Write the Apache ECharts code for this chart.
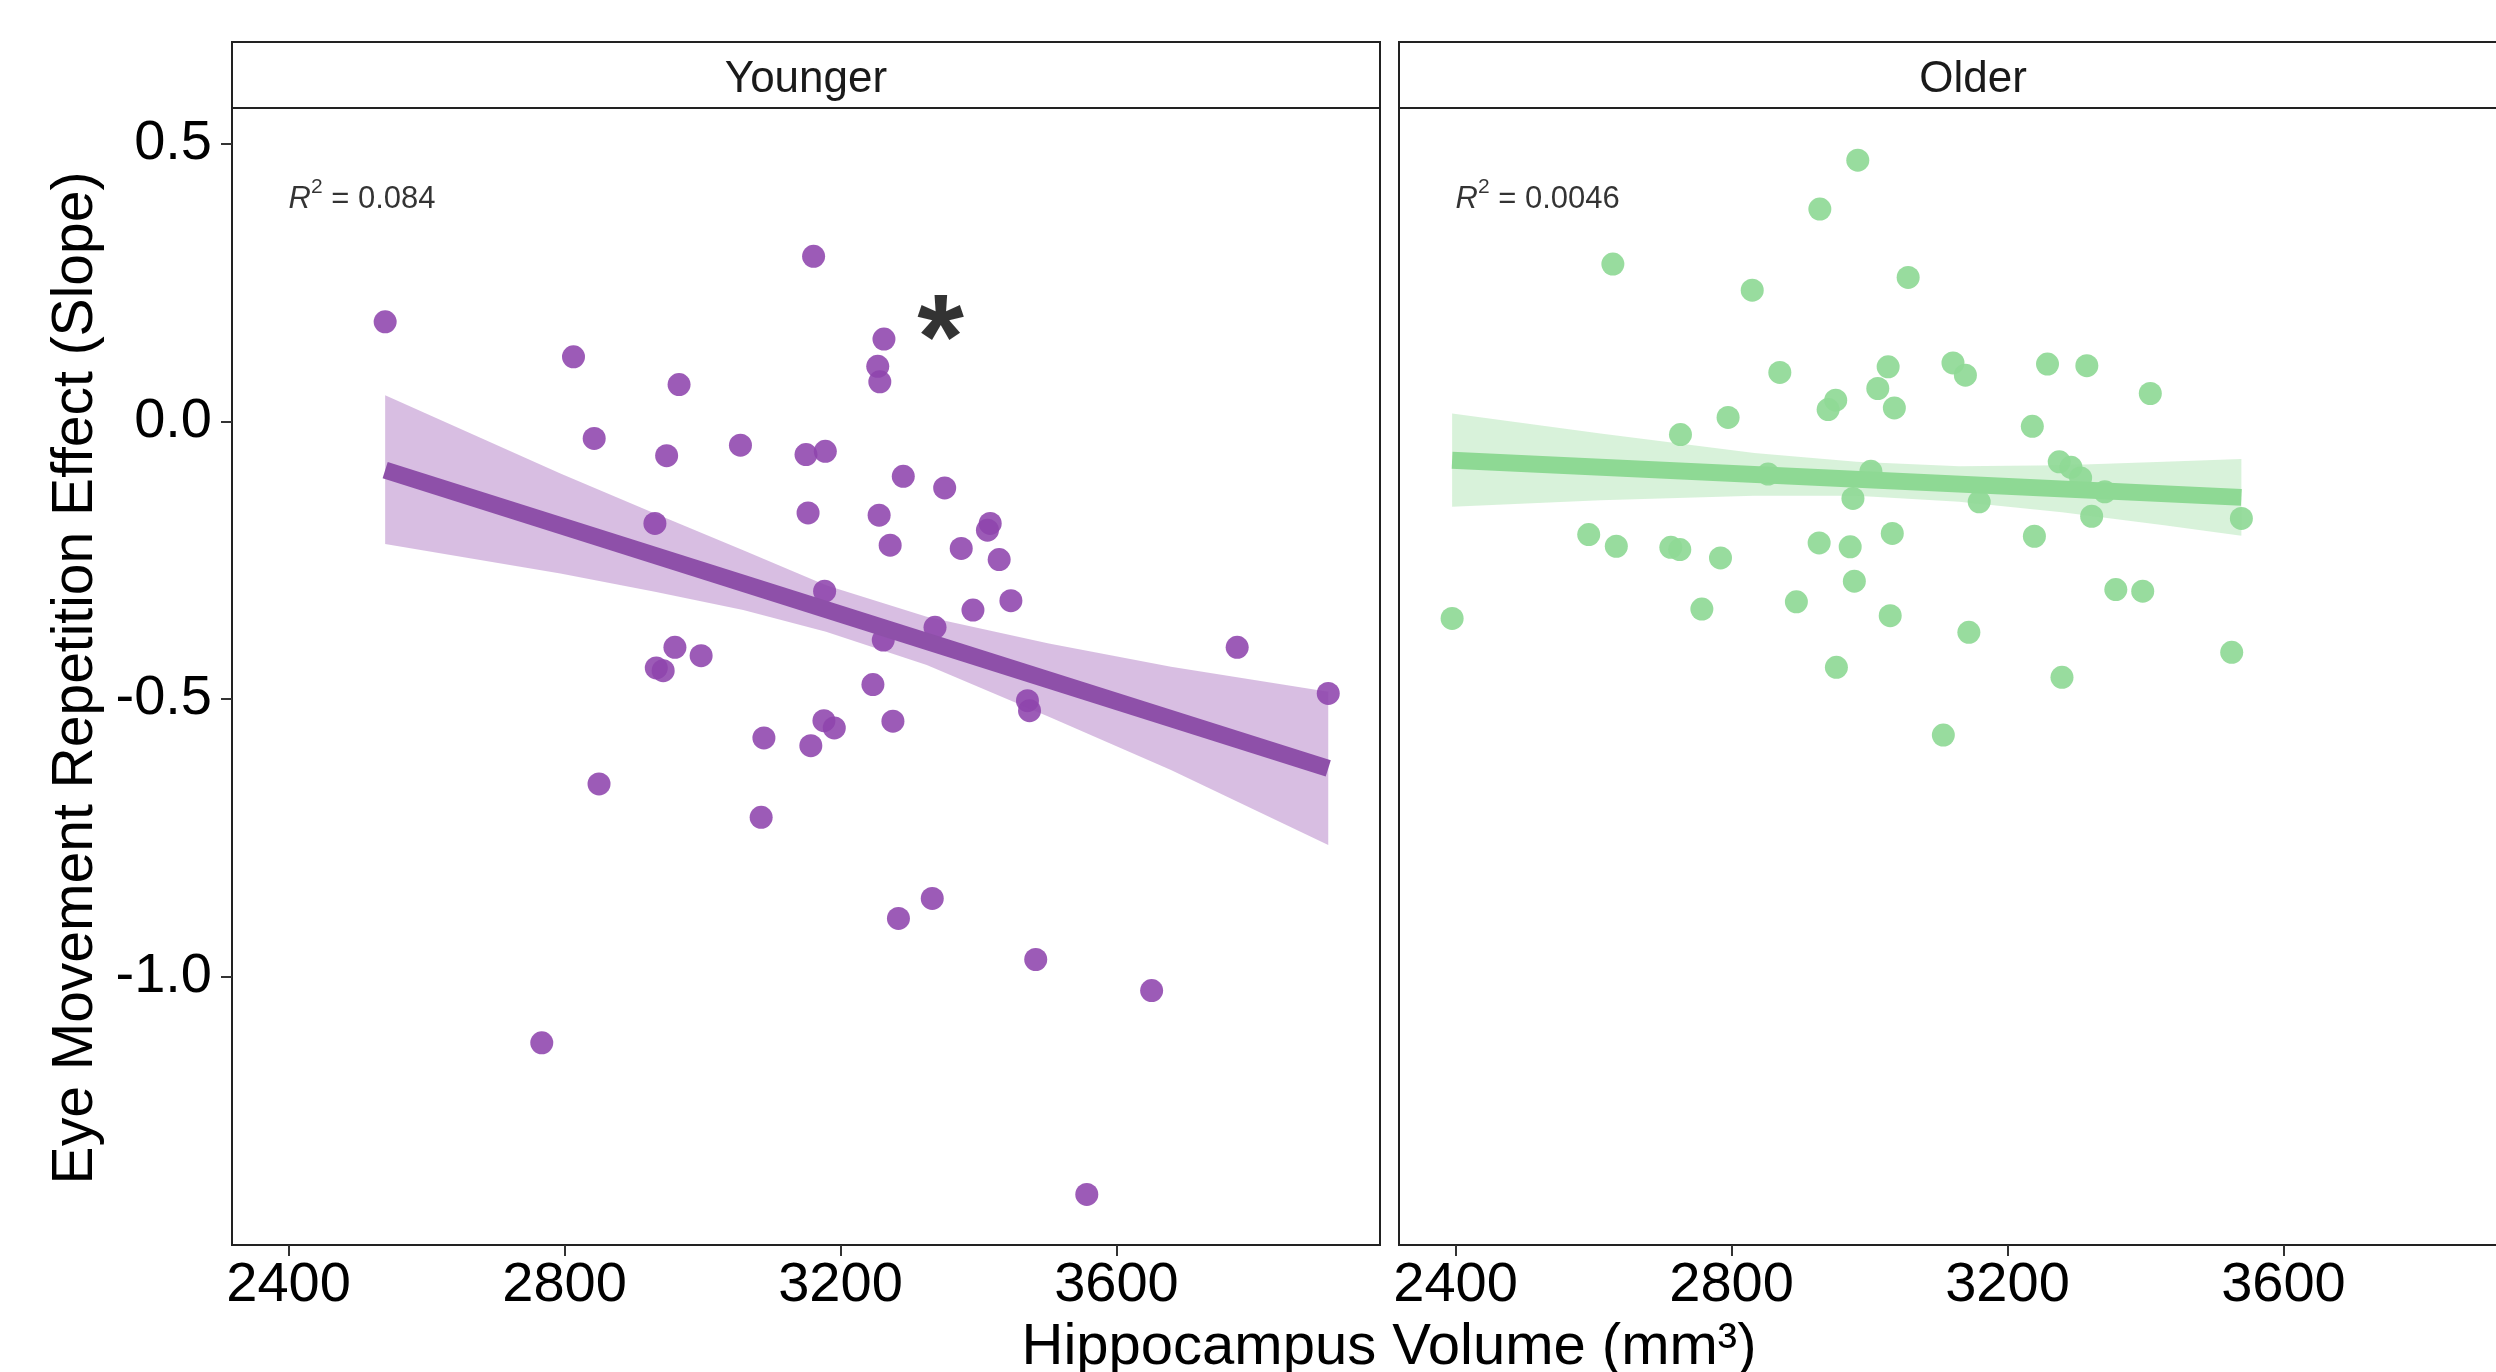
<!DOCTYPE html>
<html>
<head>
<meta charset="utf-8">
<title>Hippocampus volume vs eye movement repetition effect</title>
<script src="https://cdn.jsdelivr.net/npm/echarts@6.0.0/dist/echarts.min.js"></script>
<style>
  html, body { margin: 0; padding: 0; background: #fff; overflow: hidden; }
  /* the right facet runs past the picture edge, as in the reference */
  #chart { width: 2600px; height: 1372px; }
</style>
</head>
<body>
<div id="chart"></div>
<script>
// values
const panels = ['Younger', 'Older'];
const xTicks = [2400, 2800, 3200, 3600];
const yTicks = [-1.0, -0.5, 0.0, 0.5];

const youngX = [2540, 2813, 2966, 2843, 2948, 3055, 2931, 2960, 2998, 2933, 2943, 3089, 3161, 3263, 3254, 3257, 3150,
  3178, 3291, 3351, 3153, 3256, 3272, 3417, 3413, 3375, 3430, 3177, 3447, 3392, 3337, 3262, 3247, 3775, 3907, 3471,
  3474, 3176, 3191, 3276, 3157, 2850, 3085, 2767, 3333, 3284, 3483, 3651, 3557];
const youngY = [0.179, 0.116, 0.066, -0.031, -0.062, -0.043, -0.184, -0.407, -0.422, -0.444, -0.449, -0.570, 0.297,
  0.148, 0.099, 0.071, -0.060, -0.054, -0.099, -0.120, -0.165, -0.169, -0.223, -0.184, -0.196, -0.229, -0.249, -0.306,
  -0.323, -0.340, -0.371, -0.394, -0.474, -0.407, -0.490, -0.503, -0.521, -0.539, -0.552, -0.540, -0.584, -0.653,
  -0.713, -1.119, -0.859, -0.895, -0.969, -1.025, -1.392];

const oldX = [2983, 2928, 2628, 2830, 3056, 2870, 3027, 3012, 2951, 2940, 3036, 2795, 2726, 2853, 3002, 2976, 2593,
  2633, 2712, 2725, 2784, 2927, 2972, 3033, 2978, 2395, 2757, 2894, 3030, 2952, 3121, 3139, 3258, 3315, 3407, 3236,
  3275, 3292, 3306, 3341, 3159, 3322, 3539, 3239, 3357, 3396, 3144, 3525, 3279, 3107];
const oldY = [0.470, 0.382, 0.283, 0.236, 0.259, 0.088, 0.098, 0.059, 0.038, 0.021, 0.024, 0.007, -0.024, -0.095,
  -0.090, -0.139, -0.204, -0.225, -0.227, -0.231, -0.246, -0.219, -0.226, -0.202, -0.288, -0.355, -0.338, -0.325,
  -0.350, -0.443, 0.105, 0.083, 0.103, 0.100, 0.050, -0.009, -0.073, -0.083, -0.102, -0.127, -0.145, -0.171, -0.175,
  -0.207, -0.303, -0.306, -0.380, -0.416, -0.461, -0.565];

// fitted lines and confidence bands
const youngFitX = [2540, 3907];
const youngFitY = [-0.088, -0.625];
const youngBandX = [2540, 2794, 2931, 3059, 3179, 3325, 3502, 3679, 3907];
const youngBandHi = [0.047, -0.094, -0.166, -0.232, -0.295, -0.352, -0.400, -0.442, -0.487];
const youngBandLo = [-0.221, -0.274, -0.307, -0.340, -0.379, -0.439, -0.532, -0.628, -0.763];

const oldFitX = [2395, 3539];
const oldFitY = [-0.070, -0.137];
const oldBandX = [2395, 2610, 2833, 2981, 3130, 3279, 3427, 3539];
const oldBandHi = [0.014, -0.022, -0.057, -0.073, -0.081, -0.079, -0.073, -0.068];
const oldBandLo = [-0.154, -0.142, -0.134, -0.134, -0.145, -0.164, -0.187, -0.206];

const r2Labels = ['0.084', '0.0046'];

const FONT = 'Liberation Sans, Arial, Helvetica, sans-serif';
const purple = '#8E44AD';
const green = '#8FD996';

const zip = (xs, ys) => xs.map((x, i) => [x, ys[i]]);

function band(xs, hi, lo, idx, fill) {
  return {
    type: 'custom',
    xAxisIndex: idx,
    yAxisIndex: idx,
    z: 3,
    silent: true,
    data: xs.map((x, i) => [x, hi[i], lo[i]]),
    renderItem: (params, api) => {
      if (params.dataIndex !== 0) return;
      const pts = [];
      xs.forEach((x, i) => pts.push(api.coord([x, hi[i]])));
      for (let i = xs.length - 1; i >= 0; i--) pts.push(api.coord([xs[i], lo[i]]));
      return { type: 'polygon', shape: { points: pts }, style: { fill: fill } };
    }
  };
}

function r2Label(idx) {
  return {
    type: 'scatter',
    xAxisIndex: idx,
    yAxisIndex: idx,
    symbolSize: 0,
    silent: true,
    z: 6,
    data: [[2400, 0.4]],
    label: {
      show: true,
      position: 'right',
      distance: 0,
      formatter: '{a|R}{b|2}{c| = ' + r2Labels[idx] + '}',
      lineHeight: 44,
      rich: {
        a: { fontFamily: FONT, fontSize: 31, fontStyle: 'italic', color: '#000', lineHeight: 44 },
        b: { fontFamily: FONT, fontSize: 21, color: '#000', verticalAlign: 'top', lineHeight: 22 },
        c: { fontFamily: FONT, fontSize: 31, color: '#000', lineHeight: 44 }
      }
    }
  };
}

const grids = [232, 1399].map(left => ({
  left: left, top: 108, width: 1148, height: 1137,
  show: true, borderColor: '#222', borderWidth: 2, backgroundColor: 'transparent'
}));

const xAxes = [0, 1].map(i => ({
  gridIndex: i,
  type: 'value',
  min: 2318,
  max: 3982,
  splitLine: { show: false },
  axisLine: { show: true, onZero: false, lineStyle: { color: '#222', width: 2 } },
  axisTick: { show: true, length: 11, customValues: xTicks, lineStyle: { color: '#333', width: 2 } },
  axisLabel: {
    customValues: xTicks,
    fontSize: 56,
    fontFamily: FONT,
    color: '#000',
    margin: 13,
    formatter: v => String(v)
  }
}));

const yAxes = [0, 1].map(i => ({
  gridIndex: i,
  type: 'value',
  min: -1.483,
  max: 0.564,
  splitLine: { show: false },
  axisLine: { show: i === 0, onZero: false, lineStyle: { color: '#222', width: 2 } },
  axisTick: { show: i === 0, length: 11, customValues: yTicks, lineStyle: { color: '#333', width: 2 } },
  axisLabel: {
    show: i === 0,
    customValues: yTicks,
    fontSize: 56,
    fontFamily: FONT,
    color: '#000',
    margin: 20,
    formatter: v => v.toFixed(1)
  }
}));

const chart = echarts.init(document.getElementById('chart'), null, { renderer: 'canvas' });
chart.setOption({
  backgroundColor: '#fff',
  animation: false,
  grid: grids,
  xAxis: xAxes,
  yAxis: yAxes,
  graphic: [
    { type: 'rect', shape: { x: 232, y: 42, width: 1148, height: 66 }, style: { fill: '#fff', stroke: '#222', lineWidth: 2 } },
    { type: 'rect', shape: { x: 1399, y: 42, width: 1148, height: 66 }, style: { fill: '#fff', stroke: '#222', lineWidth: 2 } },
    { type: 'text', x: 806, y: 80, style: { text: panels[0], font: '44px ' + FONT, fill: '#1A1A1A', align: 'center', verticalAlign: 'middle' } },
    { type: 'text', x: 1973, y: 80, style: { text: panels[1], font: '44px ' + FONT, fill: '#1A1A1A', align: 'center', verticalAlign: 'middle' } },
    { type: 'text', x: 1389, y: 1348, style: { text: 'Hippocampus Volume (mm³)', font: '58px ' + FONT, fill: '#000', align: 'center', verticalAlign: 'middle' } },
    { type: 'text', x: 76, y: 678, rotation: Math.PI / 2, style: { text: 'Eye Movement Repetition Effect (Slope)', font: '57px ' + FONT, fill: '#000', align: 'center', verticalAlign: 'middle' } }
  ],
  series: [
    {
      name: 'Younger',
      type: 'scatter',
      xAxisIndex: 0, yAxisIndex: 0,
      symbolSize: 23,
      z: 2,
      itemStyle: { color: purple, opacity: 0.88 },
      data: zip(youngX, youngY)
    },
    band(youngBandX, youngBandHi, youngBandLo, 0, 'rgba(142,68,173,0.35)'),
    {
      type: 'line',
      xAxisIndex: 0, yAxisIndex: 0,
      symbol: 'none',
      z: 4,
      lineStyle: { color: '#8E50A9', width: 17 },
      data: zip(youngFitX, youngFitY)
    },
    {
      name: 'Older',
      type: 'scatter',
      xAxisIndex: 1, yAxisIndex: 1,
      symbolSize: 23,
      z: 2,
      itemStyle: { color: green, opacity: 0.92 },
      data: zip(oldX, oldY)
    },
    band(oldBandX, oldBandHi, oldBandLo, 1, 'rgba(143,217,150,0.35)'),
    {
      type: 'line',
      xAxisIndex: 1, yAxisIndex: 1,
      symbol: 'none',
      z: 4,
      lineStyle: { color: '#8ED994', width: 17 },
      data: zip(oldFitX, oldFitY)
    },
    r2Label(0),
    r2Label(1),
    {
      type: 'scatter',
      xAxisIndex: 0, yAxisIndex: 0,
      symbolSize: 0,
      silent: true,
      z: 6,
      data: [[3345, 0.137]],
      label: {
        show: true,
        position: 'inside',
        formatter: '*',
        fontFamily: FONT,
        fontWeight: 'bold',
        fontSize: 120,
        color: '#000'
      }
    }
  ]
});
</script>
</body>
</html>
